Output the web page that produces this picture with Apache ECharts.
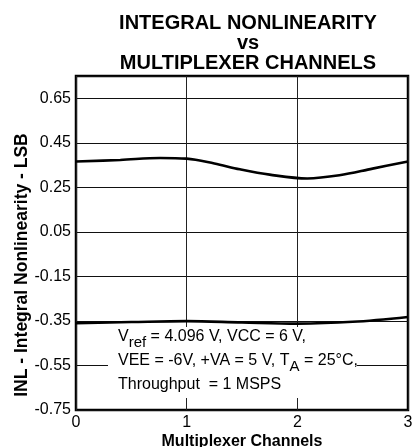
<!DOCTYPE html>
<html>
<head>
<meta charset="utf-8">
<script src="https://cdn.jsdelivr.net/npm/echarts@6/dist/echarts.min.js"></script>
<style>
html,body{margin:0;padding:0;background:#fff;}
#main{width:413px;height:447px;}
</style>
</head>
<body>
<div id="main"></div>
<script>
// Data
var titleLines = ['INTEGRAL NONLINEARITY', 'vs', 'MULTIPLEXER CHANNELS'];
var xAxisName = 'Multiplexer Channels';
var yAxisName = 'INL - Integral Nonlinearity - LSB';
var upperX = [0, 0.4, 0.76, 1.0, 1.25, 1.48, 1.75, 2.09, 2.38, 2.68, 3.0];
var upperY = [0.366, 0.373, 0.382, 0.379, 0.357, 0.331, 0.307, 0.290, 0.304, 0.334, 0.366];
var lowerX = [0, 0.5, 1.0, 1.5, 2.0, 2.5, 3.0];
var lowerY = [-0.360, -0.355, -0.351, -0.357, -0.362, -0.354, -0.332];
var yMin = -0.75, yMax = 0.75, yStep = 0.2;
var xMin = 0, xMax = 3, xStep = 1;

function pairs(xs, ys) { return xs.map(function (x, i) { return [x, ys[i]]; }); }

var chart = echarts.init(document.getElementById('main'));
var font = 'Liberation Sans, Arial, Helvetica, sans-serif';
chart.setOption({
  animation: false,
  backgroundColor: '#fff',
  title: {
    text: titleLines.join('\n'),
    left: 243,
    top: 8,
    textAlign: 'center',
    textStyle: { fontFamily: font, fontWeight: 'bold', fontSize: 20, lineHeight: 20, color: '#000' }
  },
  grid: { left: 76, right: 5, top: 76, bottom: 37, containLabel: false, outerBoundsMode: 'none',
    show: true, borderColor: '#000', borderWidth: 2.5, backgroundColor: 'transparent' },
  xAxis: {
    type: 'value', min: xMin, max: xMax, interval: xStep,
    name: xAxisName, nameLocation: 'middle', nameGap: 24, nameMoveOverlap: false,
    nameTextStyle: { fontFamily: font, fontWeight: 'bold', fontSize: 16, color: '#000' },
    axisLine: { show: false }, axisTick: { show: false },
    axisLabel: { fontFamily: font, fontSize: 16, color: '#000', margin: 5 },
    splitLine: { show: true, lineStyle: { color: '#222', width: 1 } }
  },
  yAxis: {
    type: 'value', min: yMin, max: yMax, interval: yStep,
    name: yAxisName, nameLocation: 'middle', nameGap: 45, nameMoveOverlap: false,
    nameTextStyle: { fontFamily: font, fontWeight: 'bold', fontSize: 17.5, color: '#000', padding: [0, 44, 0, 0] },
    axisLine: { show: false }, axisTick: { show: false },
    axisLabel: { fontFamily: font, fontSize: 16, color: '#000', margin: 5, showMaxLabel: false,
      formatter: function (v) { return (Math.round(v * 100) / 100).toFixed(2); } },
    splitLine: { show: true, lineStyle: { color: '#111', width: 1 } }
  },
  graphic: [
    { type: 'rect', z: 100, x: 108, y: 327, shape: { x: 0, y: 0, width: 249, height: 71 }, style: { fill: '#fff', stroke: null } },
    { type: 'text', z: 101, x: 118, y: 325,
      style: {
        text: '{n|V}{s|ref}{n| = 4.096 V, VCC = 6 V,}\n{n|VEE = -6V, +VA = 5 V, T}{s|A}{n| = 25°C,}\n{n|Throughput  = 1 MSPS}',
        fill: '#000', fontFamily: font,
        rich: {
          n: { fontFamily: font, fontSize: 16, lineHeight: 24, fill: '#000' },
          s: { fontFamily: font, fontSize: 15, lineHeight: 15, padding: [11, 0, 0, 0], fill: '#000' }
        }
      }
    }
  ],
  series: [
    { type: 'line', data: pairs(upperX, upperY), smooth: 0.35, showSymbol: false, symbol: 'none',
      lineStyle: { color: '#000', width: 2.6 }, z: 10 },
    { type: 'line', data: pairs(lowerX, lowerY), smooth: 0.35, showSymbol: false, symbol: 'none',
      lineStyle: { color: '#000', width: 2.6 }, z: 10 }
  ]
});
</script>
</body>
</html>
